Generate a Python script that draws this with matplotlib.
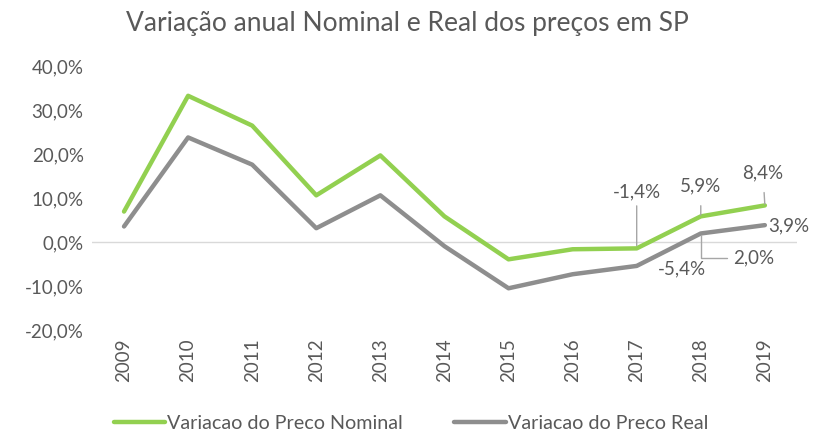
import matplotlib.pyplot as plt

plt.rcParams["font.family"] = ["Lato", "DejaVu Sans"]

years = ["2009", "2010", "2011", "2012", "2013", "2014", "2015", "2016", "2017", "2018", "2019"]
nominal = [7.0, 33.4, 26.6, 10.7, 19.8, 5.9, -3.9, -1.6, -1.4, 5.9, 8.4]
real = [3.6, 23.9, 17.7, 3.2, 10.7, -0.9, -10.5, -7.3, -5.4, 2.0, 3.9]
y_ticks = [40, 30, 20, 10, 0, -10, -20]

GREEN = "#92D050"
GRAY = "#8E8E8E"
TEXT = "#595959"


def pct(v):
    return f"{v:.1f}%".replace(".", ",")


fig = plt.figure(figsize=(8.14, 4.37), dpi=100)
ax = fig.add_axes([0.113, 0.245, 0.866, 0.602])

x = list(range(len(years)))
ax.plot(x, nominal, color=GREEN, lw=3.2, solid_capstyle="round", label="Variacao do Preco Nominal", zorder=3)
ax.plot(x, real, color=GRAY, lw=3.2, solid_capstyle="round", label="Variacao do Preco Real", zorder=3)
ax.axhline(0, color="#D9D9D9", lw=1, zorder=1)

ax.set_xlim(-0.5, len(years) - 0.5)
ax.set_ylim(-20, 40)
ax.set_yticks(y_ticks)
ax.set_yticklabels([pct(v) for v in y_ticks])
ax.set_xticks(x)
ax.set_xticklabels(years, rotation=90)
ax.tick_params(length=0, labelsize=13.5, colors=TEXT)
ax.tick_params(axis="y", pad=6)
ax.tick_params(axis="x", pad=6)
for s in ax.spines.values():
    s.set_visible(False)

fig.suptitle("Variação anual Nominal e Real dos preços em SP", y=0.975, fontsize=19, color=TEXT)

# data labels for the last years
lead = dict(color="#A6A6A6", lw=1)
lab = dict(fontsize=13.5, color=TEXT)
ax.annotate(pct(nominal[8]), xy=(8, nominal[8]), xytext=(8, 11.5), ha="center", va="center",
            arrowprops=dict(arrowstyle="-", **lead), **lab)
ax.annotate(pct(nominal[9]), xy=(9, nominal[9]), xytext=(9.0, 12.8), ha="center", va="center",
            arrowprops=dict(arrowstyle="-", shrinkA=6, shrinkB=1, **lead), **lab)
ax.annotate(pct(nominal[10]), xy=(10, nominal[10]), xytext=(9.97, 15.8), ha="center", va="center",
            arrowprops=dict(arrowstyle="-", shrinkA=6, shrinkB=1, connectionstyle="arc3", **lead), **lab)
ax.annotate(pct(real[10]), xy=(10, real[10]), xytext=(10.38, 3.7), ha="center", va="center", **lab)
ax.annotate(pct(real[8]), xy=(8, real[8]), xytext=(8.7, -6.0), ha="center", va="center", **lab)
ax.annotate(pct(real[9]), xy=(9, real[9]), xytext=(9.5, -3.5), ha="left", va="center",
            arrowprops=dict(arrowstyle="-", connectionstyle="angle,angleA=0,angleB=90,rad=0",
                            shrinkA=2, shrinkB=1, **lead), **lab)

fig.legend(loc="center", bbox_to_anchor=(0.505, 0.032), ncol=2, frameon=False,
           fontsize=14.2, labelcolor=TEXT, handlelength=2.6, handletextpad=0.1, columnspacing=2.6)

fig.savefig("out.png", dpi=100)
